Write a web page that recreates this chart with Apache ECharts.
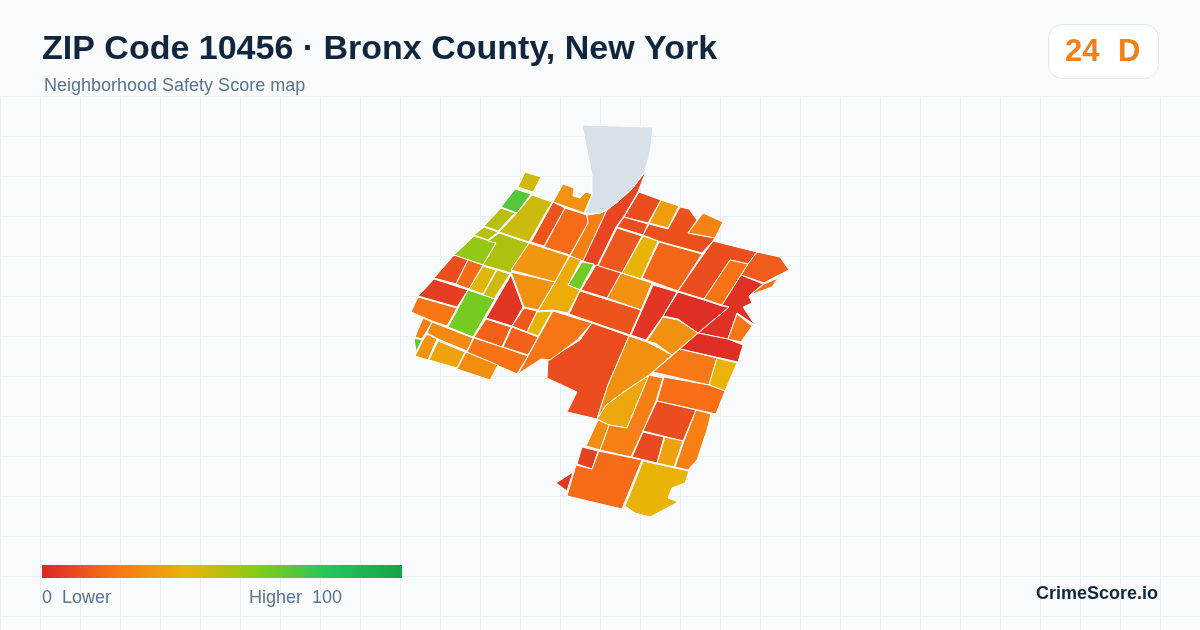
<!DOCTYPE html>
<html>
<head>
<meta charset="utf-8">
<style>
  html, body { margin: 0; padding: 0; background: #f8fafc; }
  #chart { width: 1200px; height: 630px; }
</style>
<script src="https://cdn.jsdelivr.net/npm/echarts@6/dist/echarts.min.js"></script>
</head>
<body>
<div id="chart"></div>
<script>
var titleText = 'ZIP Code 10456 · Bronx County, New York';
var subtitleText = 'Neighborhood Safety Score map';
var scoreValue = '24';
var scoreGrade = 'D';
var brandText = 'CrimeScore.io';
var legendLow = '0  Lower';
var legendHigh = 'Higher  100';
var scoreRange = [0, 100];
var rampColors = ['#dc2626', '#f97316', '#eab308', '#84cc16', '#22c55e', '#16a34a'];

// tract with no score, drawn grey
var noDataOutline = [[582,125],[653,127],[650,153],[645,171],[633,188],[620,200],[607,210],[600,213],[585,214],[592,195],[592,175]];

// traced tract outlines, one score per outline
var tractOutlines = [
  [[525,172],[541,177],[533,192],[518,187]],
  [[515,189],[531,194],[517,213],[501,207]],
  [[501,208],[515,213],[498,231],[484,226]],
  [[532,195],[552,202],[529,242],[499,232],[517,213]],
  [[484,227],[498,232],[488,240],[474,235]],
  [[474,236],[496,243],[483,265],[454,255]],
  [[488,241],[499,233],[529,243],[511,273],[483,265],[496,243]],
  [[563,184],[574,188],[573,196],[580,198],[586,192],[592,194],[584,213],[553,202]],
  [[553,202],[565,208],[544,246],[531,242]],
  [[565,208],[587,215],[588,223],[570,255],[544,247]],
  [[587,215],[600,213],[607,210],[583,261],[570,256],[588,223]],
  [[646,171],[638,192],[624,216],[616,227],[597,266],[583,261],[607,210],[620,200],[634,186]],
  [[639,192],[661,200],[648,223],[624,217]],
  [[661,200],[679,206],[668,228],[649,223]],
  [[624,217],[648,224],[643,235],[617,227]],
  [[680,207],[689,209],[697,220],[688,233],[715,238],[712,242],[702,253],[658,241],[643,235],[649,224],[668,229]],
  [[703,213],[723,222],[715,238],[688,233]],
  [[617,228],[642,236],[622,273],[598,266]],
  [[643,236],[658,241],[641,279],[622,273]],
  [[659,242],[702,254],[678,291],[642,278]],
  [[713,241],[757,252],[748,264],[730,260],[704,299],[678,291]],
  [[730,260],[748,264],[722,305],[704,299]],
  [[757,252],[780,257],[789,270],[775,277],[764,283],[741,275],[748,264]],
  [[764,284],[778,278],[772,287],[750,295]],
  [[741,275],[763,284],[749,296],[752,303],[743,307],[755,325],[737,313],[728,339],[698,333],[729,307],[722,305]],
  [[737,314],[752,326],[741,342],[728,339]],
  [[678,292],[704,300],[722,306],[729,307],[698,333],[678,319],[663,316]],
  [[653,285],[677,292],[663,316],[646,340],[631,335]],
  [[663,317],[678,320],[698,333],[672,355],[655,343],[647,341]],
  [[621,273],[652,283],[641,310],[607,298]],
  [[582,262],[594,264],[580,290],[568,285]],
  [[596,265],[621,273],[607,298],[581,290]],
  [[580,291],[641,310],[630,335],[569,314]],
  [[592,323],[629,336],[608,385],[597,419],[567,412],[577,392],[547,378],[548,360],[580,340]],
  [[597,419],[606,405],[625,391],[649,375],[627,428],[609,425]],
  [[629,336],[647,342],[672,355],[649,375],[625,391],[606,405],[597,419],[608,385]],
  [[698,333],[728,339],[743,345],[738,362],[680,349]],
  [[680,349],[717,358],[709,385],[653,372]],
  [[717,358],[737,363],[725,391],[709,385]],
  [[664,377],[709,385],[725,391],[716,414],[657,401]],
  [[649,375],[663,378],[656,401],[643,431],[631,457],[600,450],[609,425],[627,428]],
  [[598,420],[609,425],[600,450],[586,446]],
  [[657,401],[696,410],[683,441],[643,431]],
  [[696,410],[711,414],[707,430],[697,460],[688,470],[675,467],[684,441]],
  [[643,432],[664,437],[657,463],[632,457]],
  [[665,437],[683,441],[674,467],[657,463]],
  [[582,447],[598,451],[592,469],[577,464]],
  [[599,451],[642,460],[622,509],[567,496],[576,465],[592,469]],
  [[573,472],[567,491],[556,483]],
  [[643,461],[689,471],[685,483],[672,488],[668,498],[678,502],[650,517],[635,513],[625,506]],
  [[454,255],[468,260],[456,284],[434,278]],
  [[468,260],[483,265],[469,289],[456,284]],
  [[483,266],[496,270],[483,294],[469,289]],
  [[497,270],[510,274],[494,299],[483,295]],
  [[434,279],[468,290],[457,307],[418,296],[422,292]],
  [[418,297],[457,308],[447,326],[432,321],[411,312]],
  [[468,290],[495,299],[473,337],[448,327]],
  [[511,275],[523,307],[512,326],[486,318]],
  [[511,272],[555,282],[538,310],[524,307]],
  [[529,243],[569,256],[555,282],[511,270]],
  [[570,256],[581,260],[568,285],[580,290],[568,313],[553,310],[538,311],[555,282]],
  [[524,308],[537,311],[527,332],[512,326]],
  [[537,312],[552,311],[538,336],[527,332]],
  [[553,311],[592,323],[577,340],[550,360],[541,359],[518,374],[528,356],[539,336]],
  [[486,319],[511,327],[502,347],[474,337]],
  [[512,327],[538,337],[528,355],[503,347]],
  [[474,338],[502,347],[528,356],[517,374],[467,352]],
  [[432,322],[473,338],[467,351],[438,339],[427,333]],
  [[423,318],[432,322],[422,339],[415,337]],
  [[414,338],[422,340],[416,352]],
  [[423,340],[427,334],[437,339],[428,360],[415,356]],
  [[438,341],[465,352],[457,368],[429,360]],
  [[466,352],[498,365],[490,380],[457,369]]
];
var tractScores = [
  45, 70, 50, 46, 50, 57, 52, 30, 12, 18, 24, 8, 10, 33, 10, 11, 25, 13, 40, 17,
  10, 20, 14, 20, 3, 21, 2, 4, 29, 29, 64, 10, 12, 10, 36, 29, 2, 22, 40, 19,
  24, 28, 10, 24, 9, 35, 7, 18, 5, 40, 10, 18, 42, 45, 6, 21, 63, 4, 29, 31,
  38, 13, 41, 21, 15, 15, 20, 27, 23, 68, 30, 35, 28
];

var features = tractOutlines.map(function (ring, i) {
  return {
    type: 'Feature',
    properties: { name: 'tract' + i },
    geometry: { type: 'Polygon', coordinates: [ring] }
  };
});
features.push({
  type: 'Feature',
  properties: { name: 'nodata' },
  geometry: { type: 'Polygon', coordinates: [noDataOutline] }
});
echarts.registerMap('zip10456', { type: 'FeatureCollection', features: features });

var myChart = echarts.init(document.getElementById('chart'));

var rampStops = rampColors.map(function (c, i) {
  return { offset: i / (rampColors.length - 1), color: c };
});

var option = {
  backgroundColor: '#f8fafc',
  animation: false,
  title: [
    {
      text: titleText,
      left: 42, top: 33, padding: 0,
      textStyle: { fontFamily: 'Liberation Sans', fontSize: 34, fontWeight: 'bold', color: '#10263f' }
    },
    {
      text: subtitleText,
      left: 44, top: 77, padding: 0,
      textStyle: { fontFamily: 'Liberation Sans', fontSize: 18, fontWeight: 'normal', color: '#5b7290' }
    }
  ],
  grid: { left: 0, top: 96, width: 1200, height: 534 },
  xAxis: {
    type: 'value', min: 0, max: 1200, interval: 40,
    axisLine: { show: false }, axisTick: { show: false }, axisLabel: { show: false },
    splitLine: { lineStyle: { color: '#e8eff3', width: 1 } }
  },
  yAxis: {
    type: 'value', inverse: true, min: 0, max: 534, interval: 40,
    axisLine: { show: false }, axisTick: { show: false }, axisLabel: { show: false },
    splitLine: { lineStyle: { color: '#e8eff3', width: 1 } }
  },
  visualMap: {
    type: 'continuous',
    show: false,
    seriesIndex: 0,
    min: scoreRange[0],
    max: scoreRange[1],
    inRange: { color: rampColors }
  },
  series: [
    {
      type: 'map',
      map: 'zip10456',
      silent: true,
      projection: {
        project: function (p) { return p; },
        unproject: function (p) { return p; }
      },
      boundingCoords: [[0, 0], [1200, 630]],
      layoutCenter: [600, 315],
      layoutSize: 1200,
      aspectScale: 1,
      label: { show: false },
      itemStyle: { areaColor: '#d9e1e8', borderColor: '#ffffff', borderWidth: 1 },
      data: tractScores.map(function (v, i) { return { name: 'tract' + i, value: v }; })
    }
  ],
  graphic: [
    {
      type: 'rect', left: 1048, top: 24, z: 5,
      shape: { width: 110, height: 54, r: 14 },
      style: { fill: '#ffffff', stroke: '#e2e8f0', lineWidth: 1 }
    },
    {
      type: 'text', left: 1065, top: 37, z: 6,
      style: { text: scoreValue, font: 'bold 31px "Liberation Sans"', fill: '#f57f17' }
    },
    {
      type: 'text', left: 1118, top: 37, z: 6,
      style: { text: scoreGrade, font: 'bold 31px "Liberation Sans"', fill: '#f57f17' }
    },
    {
      type: 'rect', left: 42, top: 565, z: 5,
      shape: { width: 360, height: 13 },
      style: { fill: new echarts.graphic.LinearGradient(0, 0, 1, 0, rampStops) }
    },
    {
      type: 'text', left: 42, top: 589, z: 6,
      style: { text: legendLow, font: '18px "Liberation Sans"', fill: '#5b7290' }
    },
    {
      type: 'text', left: 249, top: 589, z: 6,
      style: { text: legendHigh, font: '18px "Liberation Sans"', fill: '#5b7290' }
    },
    {
      type: 'text', right: 42, top: 585, z: 6,
      style: { text: brandText, font: 'bold 18px "Liberation Sans"', fill: '#10263f' }
    }
  ]
};

option && myChart.setOption(option);
</script>
</body>
</html>
